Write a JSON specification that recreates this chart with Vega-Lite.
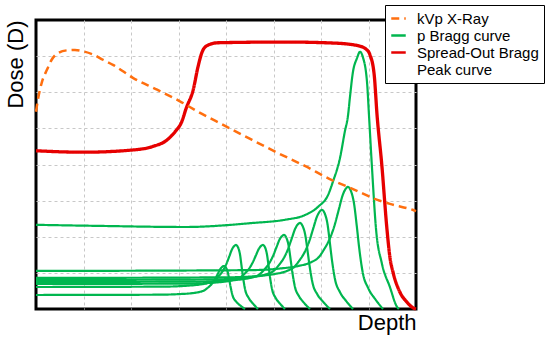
{
  "$schema": "https://vega.github.io/schema/vega-lite/v6.json",
  "width": 380,
  "height": 289,
  "autosize": {"type": "none"},
  "padding": {"left": 36, "top": 20, "right": 134, "bottom": 33},
  "background": "white",
  "config": {
    "view": {"stroke": "black", "strokeWidth": 3},
    "axis": {
      "domain": false, "ticks": false, "labels": false, "grid": true,
      "gridColor": "#c8c8c8", "gridDash": [3, 3], "gridWidth": 1,
      "titleFont": "Liberation Sans", "titleFontSize": 22, "titleFontWeight": "normal", "titleColor": "black"
    },
    "legend": {
      "orient": "none", "legendX": 349, "legendY": -15, "symbolType": "stroke",
      "symbolStrokeWidth": 2.5, "symbolSize": 210, "labelFont": "Liberation Sans", "labelFontSize": 15, "labelColor": "black",
      "labelOffset": 10, "rowPadding": 0, "padding": 5, "strokeColor": "black", "fillColor": "white",
      "cornerRadius": 0, "labelLimit": 200
    }
  },
  "data": {"values": [
    {"type": "p Bragg curve", "curve": "p1", "x": 0, "y": 0.388},
    {"type": "p Bragg curve", "curve": "p1", "x": 2.594, "y": 0.396},
    {"type": "p Bragg curve", "curve": "p1", "x": 3.011, "y": 0.413},
    {"type": "p Bragg curve", "curve": "p1", "x": 3.263, "y": 0.435},
    {"type": "p Bragg curve", "curve": "p1", "x": 3.427, "y": 0.468},
    {"type": "p Bragg curve", "curve": "p1", "x": 3.554, "y": 0.524},
    {"type": "p Bragg curve", "curve": "p1", "x": 3.617, "y": 0.589},
    {"type": "p Bragg curve", "curve": "p1", "x": 3.705, "y": 0.701},
    {"type": "p Bragg curve", "curve": "p1", "x": 3.768, "y": 0.823},
    {"type": "p Bragg curve", "curve": "p1", "x": 3.832, "y": 0.983},
    {"type": "p Bragg curve", "curve": "p1", "x": 3.882, "y": 1.111},
    {"type": "p Bragg curve", "curve": "p1", "x": 3.92, "y": 1.166},
    {"type": "p Bragg curve", "curve": "p1", "x": 3.958, "y": 1.191},
    {"type": "p Bragg curve", "curve": "p1", "x": 3.994, "y": 1.155},
    {"type": "p Bragg curve", "curve": "p1", "x": 4.038, "y": 1.014},
    {"type": "p Bragg curve", "curve": "p1", "x": 4.069, "y": 0.809},
    {"type": "p Bragg curve", "curve": "p1", "x": 4.099, "y": 0.596},
    {"type": "p Bragg curve", "curve": "p1", "x": 4.143, "y": 0.357},
    {"type": "p Bragg curve", "curve": "p1", "x": 4.215, "y": 0.202},
    {"type": "p Bragg curve", "curve": "p1", "x": 4.303, "y": 0.094},
    {"type": "p Bragg curve", "curve": "p1", "x": 4.4, "y": 0},

    {"type": "p Bragg curve", "curve": "p2", "x": 0, "y": 0.609},
    {"type": "p Bragg curve", "curve": "p2", "x": 2.733, "y": 0.62},
    {"type": "p Bragg curve", "curve": "p2", "x": 3.184, "y": 0.645},
    {"type": "p Bragg curve", "curve": "p2", "x": 3.458, "y": 0.679},
    {"type": "p Bragg curve", "curve": "p2", "x": 3.636, "y": 0.726},
    {"type": "p Bragg curve", "curve": "p2", "x": 3.773, "y": 0.806},
    {"type": "p Bragg curve", "curve": "p2", "x": 3.841, "y": 0.9},
    {"type": "p Bragg curve", "curve": "p2", "x": 3.937, "y": 1.064},
    {"type": "p Bragg curve", "curve": "p2", "x": 4.005, "y": 1.238},
    {"type": "p Bragg curve", "curve": "p2", "x": 4.074, "y": 1.471},
    {"type": "p Bragg curve", "curve": "p2", "x": 4.128, "y": 1.657},
    {"type": "p Bragg curve", "curve": "p2", "x": 4.169, "y": 1.737},
    {"type": "p Bragg curve", "curve": "p2", "x": 4.211, "y": 1.773},
    {"type": "p Bragg curve", "curve": "p2", "x": 4.248, "y": 1.72},
    {"type": "p Bragg curve", "curve": "p2", "x": 4.295, "y": 1.507},
    {"type": "p Bragg curve", "curve": "p2", "x": 4.326, "y": 1.205},
    {"type": "p Bragg curve", "curve": "p2", "x": 4.358, "y": 0.886},
    {"type": "p Bragg curve", "curve": "p2", "x": 4.404, "y": 0.532},
    {"type": "p Bragg curve", "curve": "p2", "x": 4.48, "y": 0.302},
    {"type": "p Bragg curve", "curve": "p2", "x": 4.573, "y": 0.141},
    {"type": "p Bragg curve", "curve": "p2", "x": 4.674, "y": 0},

    {"type": "p Bragg curve", "curve": "p3", "x": 0, "y": 0.693},
    {"type": "p Bragg curve", "curve": "p3", "x": 3.187, "y": 0.703},
    {"type": "p Bragg curve", "curve": "p3", "x": 3.674, "y": 0.725},
    {"type": "p Bragg curve", "curve": "p3", "x": 3.968, "y": 0.757},
    {"type": "p Bragg curve", "curve": "p3", "x": 4.16, "y": 0.801},
    {"type": "p Bragg curve", "curve": "p3", "x": 4.307, "y": 0.876},
    {"type": "p Bragg curve", "curve": "p3", "x": 4.381, "y": 0.963},
    {"type": "p Bragg curve", "curve": "p3", "x": 4.484, "y": 1.114},
    {"type": "p Bragg curve", "curve": "p3", "x": 4.558, "y": 1.276},
    {"type": "p Bragg curve", "curve": "p3", "x": 4.632, "y": 1.492},
    {"type": "p Bragg curve", "curve": "p3", "x": 4.691, "y": 1.665},
    {"type": "p Bragg curve", "curve": "p3", "x": 4.735, "y": 1.74},
    {"type": "p Bragg curve", "curve": "p3", "x": 4.779, "y": 1.773},
    {"type": "p Bragg curve", "curve": "p3", "x": 4.817, "y": 1.72},
    {"type": "p Bragg curve", "curve": "p3", "x": 4.863, "y": 1.507},
    {"type": "p Bragg curve", "curve": "p3", "x": 4.895, "y": 1.205},
    {"type": "p Bragg curve", "curve": "p3", "x": 4.926, "y": 0.886},
    {"type": "p Bragg curve", "curve": "p3", "x": 4.973, "y": 0.532},
    {"type": "p Bragg curve", "curve": "p3", "x": 5.048, "y": 0.302},
    {"type": "p Bragg curve", "curve": "p3", "x": 5.141, "y": 0.141},
    {"type": "p Bragg curve", "curve": "p3", "x": 5.242, "y": 0},

    {"type": "p Bragg curve", "curve": "p4", "x": 0, "y": 0.748},
    {"type": "p Bragg curve", "curve": "p4", "x": 3.516, "y": 0.761},
    {"type": "p Bragg curve", "curve": "p4", "x": 4.037, "y": 0.787},
    {"type": "p Bragg curve", "curve": "p4", "x": 4.353, "y": 0.826},
    {"type": "p Bragg curve", "curve": "p4", "x": 4.558, "y": 0.878},
    {"type": "p Bragg curve", "curve": "p4", "x": 4.716, "y": 0.969},
    {"type": "p Bragg curve", "curve": "p4", "x": 4.795, "y": 1.073},
    {"type": "p Bragg curve", "curve": "p4", "x": 4.905, "y": 1.256},
    {"type": "p Bragg curve", "curve": "p4", "x": 4.984, "y": 1.451},
    {"type": "p Bragg curve", "curve": "p4", "x": 5.063, "y": 1.711},
    {"type": "p Bragg curve", "curve": "p4", "x": 5.126, "y": 1.92},
    {"type": "p Bragg curve", "curve": "p4", "x": 5.174, "y": 2.011},
    {"type": "p Bragg curve", "curve": "p4", "x": 5.221, "y": 2.05},
    {"type": "p Bragg curve", "curve": "p4", "x": 5.265, "y": 1.989},
    {"type": "p Bragg curve", "curve": "p4", "x": 5.32, "y": 1.742},
    {"type": "p Bragg curve", "curve": "p4", "x": 5.358, "y": 1.393},
    {"type": "p Bragg curve", "curve": "p4", "x": 5.396, "y": 1.025},
    {"type": "p Bragg curve", "curve": "p4", "x": 5.451, "y": 0.615},
    {"type": "p Bragg curve", "curve": "p4", "x": 5.539, "y": 0.349},
    {"type": "p Bragg curve", "curve": "p4", "x": 5.648, "y": 0.163},
    {"type": "p Bragg curve", "curve": "p4", "x": 5.768, "y": 0},

    {"type": "p Bragg curve", "curve": "p5", "x": 0, "y": 0.803},
    {"type": "p Bragg curve", "curve": "p5", "x": 3.739, "y": 0.819},
    {"type": "p Bragg curve", "curve": "p5", "x": 4.295, "y": 0.851},
    {"type": "p Bragg curve", "curve": "p5", "x": 4.632, "y": 0.898},
    {"type": "p Bragg curve", "curve": "p5", "x": 4.851, "y": 0.961},
    {"type": "p Bragg curve", "curve": "p5", "x": 5.019, "y": 1.072},
    {"type": "p Bragg curve", "curve": "p5", "x": 5.103, "y": 1.198},
    {"type": "p Bragg curve", "curve": "p5", "x": 5.221, "y": 1.419},
    {"type": "p Bragg curve", "curve": "p5", "x": 5.305, "y": 1.656},
    {"type": "p Bragg curve", "curve": "p5", "x": 5.389, "y": 1.972},
    {"type": "p Bragg curve", "curve": "p5", "x": 5.457, "y": 2.224},
    {"type": "p Bragg curve", "curve": "p5", "x": 5.507, "y": 2.335},
    {"type": "p Bragg curve", "curve": "p5", "x": 5.558, "y": 2.382},
    {"type": "p Bragg curve", "curve": "p5", "x": 5.608, "y": 2.31},
    {"type": "p Bragg curve", "curve": "p5", "x": 5.672, "y": 2.025},
    {"type": "p Bragg curve", "curve": "p5", "x": 5.716, "y": 1.62},
    {"type": "p Bragg curve", "curve": "p5", "x": 5.76, "y": 1.191},
    {"type": "p Bragg curve", "curve": "p5", "x": 5.823, "y": 0.715},
    {"type": "p Bragg curve", "curve": "p5", "x": 5.924, "y": 0.404},
    {"type": "p Bragg curve", "curve": "p5", "x": 6.051, "y": 0.191},
    {"type": "p Bragg curve", "curve": "p5", "x": 6.189, "y": 0},

    {"type": "p Bragg curve", "curve": "p6", "x": 0, "y": 0.859},
    {"type": "p Bragg curve", "curve": "p6", "x": 4.088, "y": 0.878},
    {"type": "p Bragg curve", "curve": "p6", "x": 4.679, "y": 0.915},
    {"type": "p Bragg curve", "curve": "p6", "x": 5.037, "y": 0.972},
    {"type": "p Bragg curve", "curve": "p6", "x": 5.269, "y": 1.047},
    {"type": "p Bragg curve", "curve": "p6", "x": 5.448, "y": 1.179},
    {"type": "p Bragg curve", "curve": "p6", "x": 5.538, "y": 1.33},
    {"type": "p Bragg curve", "curve": "p6", "x": 5.663, "y": 1.593},
    {"type": "p Bragg curve", "curve": "p6", "x": 5.753, "y": 1.876},
    {"type": "p Bragg curve", "curve": "p6", "x": 5.842, "y": 2.253},
    {"type": "p Bragg curve", "curve": "p6", "x": 5.914, "y": 2.554},
    {"type": "p Bragg curve", "curve": "p6", "x": 5.967, "y": 2.686},
    {"type": "p Bragg curve", "curve": "p6", "x": 6.021, "y": 2.742},
    {"type": "p Bragg curve", "curve": "p6", "x": 6.074, "y": 2.659},
    {"type": "p Bragg curve", "curve": "p6", "x": 6.139, "y": 2.332},
    {"type": "p Bragg curve", "curve": "p6", "x": 6.184, "y": 1.864},
    {"type": "p Bragg curve", "curve": "p6", "x": 6.229, "y": 1.371},
    {"type": "p Bragg curve", "curve": "p6", "x": 6.295, "y": 0.823},
    {"type": "p Bragg curve", "curve": "p6", "x": 6.4, "y": 0.465},
    {"type": "p Bragg curve", "curve": "p6", "x": 6.531, "y": 0.219},
    {"type": "p Bragg curve", "curve": "p6", "x": 6.674, "y": 0},

    {"type": "p Bragg curve", "curve": "p7", "x": 0, "y": 1.053},
    {"type": "p Bragg curve", "curve": "p7", "x": 4.522, "y": 1.076},
    {"type": "p Bragg curve", "curve": "p7", "x": 5.147, "y": 1.122},
    {"type": "p Bragg curve", "curve": "p7", "x": 5.526, "y": 1.192},
    {"type": "p Bragg curve", "curve": "p7", "x": 5.773, "y": 1.285},
    {"type": "p Bragg curve", "curve": "p7", "x": 5.962, "y": 1.448},
    {"type": "p Bragg curve", "curve": "p7", "x": 6.057, "y": 1.634},
    {"type": "p Bragg curve", "curve": "p7", "x": 6.189, "y": 1.96},
    {"type": "p Bragg curve", "curve": "p7", "x": 6.284, "y": 2.309},
    {"type": "p Bragg curve", "curve": "p7", "x": 6.379, "y": 2.775},
    {"type": "p Bragg curve", "curve": "p7", "x": 6.455, "y": 3.147},
    {"type": "p Bragg curve", "curve": "p7", "x": 6.512, "y": 3.31},
    {"type": "p Bragg curve", "curve": "p7", "x": 6.568, "y": 3.38},
    {"type": "p Bragg curve", "curve": "p7", "x": 6.627, "y": 3.277},
    {"type": "p Bragg curve", "curve": "p7", "x": 6.701, "y": 2.873},
    {"type": "p Bragg curve", "curve": "p7", "x": 6.753, "y": 2.299},
    {"type": "p Bragg curve", "curve": "p7", "x": 6.804, "y": 1.69},
    {"type": "p Bragg curve", "curve": "p7", "x": 6.878, "y": 1.014},
    {"type": "p Bragg curve", "curve": "p7", "x": 6.996, "y": 0.573},
    {"type": "p Bragg curve", "curve": "p7", "x": 7.143, "y": 0.271},
    {"type": "p Bragg curve", "curve": "p7", "x": 7.305, "y": 0},

    {"type": "p Bragg curve", "curve": "main", "x": 0, "y": 2.33},
    {"type": "p Bragg curve", "curve": "main", "x": 1.35, "y": 2.3},
    {"type": "p Bragg curve", "curve": "main", "x": 3.14, "y": 2.27},
    {"type": "p Bragg curve", "curve": "main", "x": 4.55, "y": 2.38},
    {"type": "p Bragg curve", "curve": "main", "x": 5.24, "y": 2.47},
    {"type": "p Bragg curve", "curve": "main", "x": 5.66, "y": 2.6},
    {"type": "p Bragg curve", "curve": "main", "x": 5.94, "y": 2.83},
    {"type": "p Bragg curve", "curve": "main", "x": 6.15, "y": 3.16},
    {"type": "p Bragg curve", "curve": "main", "x": 6.25, "y": 3.52},
    {"type": "p Bragg curve", "curve": "main", "x": 6.4, "y": 4.18},
    {"type": "p Bragg curve", "curve": "main", "x": 6.5, "y": 4.9},
    {"type": "p Bragg curve", "curve": "main", "x": 6.57, "y": 5.37},
    {"type": "p Bragg curve", "curve": "main", "x": 6.61, "y": 5.87},
    {"type": "p Bragg curve", "curve": "main", "x": 6.67, "y": 6.54},
    {"type": "p Bragg curve", "curve": "main", "x": 6.76, "y": 6.95},
    {"type": "p Bragg curve", "curve": "main", "x": 6.82, "y": 7.12},
    {"type": "p Bragg curve", "curve": "main", "x": 6.88, "y": 6.98},
    {"type": "p Bragg curve", "curve": "main", "x": 6.97, "y": 6.26},
    {"type": "p Bragg curve", "curve": "main", "x": 7.01, "y": 5.37},
    {"type": "p Bragg curve", "curve": "main", "x": 7.07, "y": 3.99},
    {"type": "p Bragg curve", "curve": "main", "x": 7.16, "y": 2.19},
    {"type": "p Bragg curve", "curve": "main", "x": 7.28, "y": 1.27},
    {"type": "p Bragg curve", "curve": "main", "x": 7.45, "y": 0.61},
    {"type": "p Bragg curve", "curve": "main", "x": 7.6, "y": 0.06},
    {"type": "p Bragg curve", "curve": "main", "x": 7.64, "y": 0},

    {"type": "Spread-Out Bragg Peak curve", "curve": "sobp", "x": 0, "y": 4.38},
    {"type": "Spread-Out Bragg Peak curve", "curve": "sobp", "x": 0.99, "y": 4.34},
    {"type": "Spread-Out Bragg Peak curve", "curve": "sobp", "x": 2.02, "y": 4.4},
    {"type": "Spread-Out Bragg Peak curve", "curve": "sobp", "x": 2.46, "y": 4.5},
    {"type": "Spread-Out Bragg Peak curve", "curve": "sobp", "x": 2.76, "y": 4.68},
    {"type": "Spread-Out Bragg Peak curve", "curve": "sobp", "x": 2.93, "y": 4.91},
    {"type": "Spread-Out Bragg Peak curve", "curve": "sobp", "x": 3.07, "y": 5.19},
    {"type": "Spread-Out Bragg Peak curve", "curve": "sobp", "x": 3.16, "y": 5.55},
    {"type": "Spread-Out Bragg Peak curve", "curve": "sobp", "x": 3.31, "y": 6.07},
    {"type": "Spread-Out Bragg Peak curve", "curve": "sobp", "x": 3.41, "y": 6.7},
    {"type": "Spread-Out Bragg Peak curve", "curve": "sobp", "x": 3.49, "y": 7.09},
    {"type": "Spread-Out Bragg Peak curve", "curve": "sobp", "x": 3.6, "y": 7.29},
    {"type": "Spread-Out Bragg Peak curve", "curve": "sobp", "x": 3.83, "y": 7.37},
    {"type": "Spread-Out Bragg Peak curve", "curve": "sobp", "x": 5.24, "y": 7.39},
    {"type": "Spread-Out Bragg Peak curve", "curve": "sobp", "x": 6.29, "y": 7.36},
    {"type": "Spread-Out Bragg Peak curve", "curve": "sobp", "x": 6.78, "y": 7.29},
    {"type": "Spread-Out Bragg Peak curve", "curve": "sobp", "x": 6.97, "y": 7.17},
    {"type": "Spread-Out Bragg Peak curve", "curve": "sobp", "x": 7.03, "y": 7.04},
    {"type": "Spread-Out Bragg Peak curve", "curve": "sobp", "x": 7.12, "y": 6.48},
    {"type": "Spread-Out Bragg Peak curve", "curve": "sobp", "x": 7.18, "y": 5.37},
    {"type": "Spread-Out Bragg Peak curve", "curve": "sobp", "x": 7.28, "y": 3.99},
    {"type": "Spread-Out Bragg Peak curve", "curve": "sobp", "x": 7.39, "y": 2.19},
    {"type": "Spread-Out Bragg Peak curve", "curve": "sobp", "x": 7.45, "y": 1.44},
    {"type": "Spread-Out Bragg Peak curve", "curve": "sobp", "x": 7.52, "y": 1.0},
    {"type": "Spread-Out Bragg Peak curve", "curve": "sobp", "x": 7.66, "y": 0.47},
    {"type": "Spread-Out Bragg Peak curve", "curve": "sobp", "x": 7.81, "y": 0.19},
    {"type": "Spread-Out Bragg Peak curve", "curve": "sobp", "x": 7.94, "y": 0.03},
    {"type": "Spread-Out Bragg Peak curve", "curve": "sobp", "x": 8.0, "y": 0},

    {"type": "kVp X-Ray", "curve": "xray", "x": 0, "y": 5.46},
    {"type": "kVp X-Ray", "curve": "xray", "x": 0.04, "y": 5.79},
    {"type": "kVp X-Ray", "curve": "xray", "x": 0.12, "y": 6.26},
    {"type": "kVp X-Ray", "curve": "xray", "x": 0.23, "y": 6.62},
    {"type": "kVp X-Ray", "curve": "xray", "x": 0.33, "y": 6.9},
    {"type": "kVp X-Ray", "curve": "xray", "x": 0.47, "y": 7.09},
    {"type": "kVp X-Ray", "curve": "xray", "x": 0.65, "y": 7.16},
    {"type": "kVp X-Ray", "curve": "xray", "x": 0.82, "y": 7.17},
    {"type": "kVp X-Ray", "curve": "xray", "x": 1.0, "y": 7.13},
    {"type": "kVp X-Ray", "curve": "xray", "x": 1.21, "y": 7.04},
    {"type": "kVp X-Ray", "curve": "xray", "x": 1.41, "y": 6.9},
    {"type": "kVp X-Ray", "curve": "xray", "x": 1.62, "y": 6.76},
    {"type": "kVp X-Ray", "curve": "xray", "x": 2.04, "y": 6.4},
    {"type": "kVp X-Ray", "curve": "xray", "x": 2.55, "y": 6.07},
    {"type": "kVp X-Ray", "curve": "xray", "x": 3.03, "y": 5.75},
    {"type": "kVp X-Ray", "curve": "xray", "x": 3.41, "y": 5.46},
    {"type": "kVp X-Ray", "curve": "xray", "x": 3.98, "y": 5.07},
    {"type": "kVp X-Ray", "curve": "xray", "x": 4.55, "y": 4.68},
    {"type": "kVp X-Ray", "curve": "xray", "x": 5.09, "y": 4.32},
    {"type": "kVp X-Ray", "curve": "xray", "x": 5.66, "y": 3.96},
    {"type": "kVp X-Ray", "curve": "xray", "x": 6.23, "y": 3.57},
    {"type": "kVp X-Ray", "curve": "xray", "x": 6.57, "y": 3.38},
    {"type": "kVp X-Ray", "curve": "xray", "x": 6.99, "y": 3.13},
    {"type": "kVp X-Ray", "curve": "xray", "x": 7.09, "y": 3.07},
    {"type": "kVp X-Ray", "curve": "xray", "x": 7.45, "y": 2.91},
    {"type": "kVp X-Ray", "curve": "xray", "x": 7.94, "y": 2.74},
    {"type": "kVp X-Ray", "curve": "xray", "x": 8.0, "y": 2.71}
  ]},
  "encoding": {
    "x": {"field": "x", "type": "quantitative", "scale": {"domain": [0, 8], "nice": false, "zero": false},
          "axis": {"values": [1, 2, 3, 4, 5, 6, 7], "title": "Depth", "titleAnchor": "end", "titlePadding": 3}},
    "y": {"field": "y", "type": "quantitative", "scale": {"domain": [0, 8], "nice": false},
          "axis": {"values": [1, 2, 3, 4, 5, 6, 7], "title": "Dose (D)", "titleAnchor": "end", "titlePadding": 9}},
    "color": {"field": "type", "type": "nominal",
      "scale": {"domain": ["kVp X-Ray", "p Bragg curve", "Spread-Out Bragg Peak curve"], "range": ["#ff6f0f", "#00b64f", "#e60000"]},
      "legend": {"title": null,
        "labelExpr": "datum.label == 'Spread-Out Bragg Peak curve' ? ['Spread-Out Bragg', 'Peak curve'] : datum.label"}},
    "strokeDash": {"field": "type", "type": "nominal",
      "scale": {"domain": ["kVp X-Ray", "p Bragg curve", "Spread-Out Bragg Peak curve"], "range": [[8, 5], [1, 0], [1, 0]]},
      "legend": {"title": null,
        "labelExpr": "datum.label == 'Spread-Out Bragg Peak curve' ? ['Spread-Out Bragg', 'Peak curve'] : datum.label"}},
    "detail": {"field": "curve", "type": "nominal"}
  },
  "layer": [
    {"transform": [{"filter": "datum.type == 'p Bragg curve'"}],
     "mark": {"type": "line", "strokeWidth": 2.2, "interpolate": "monotone"}},
    {"transform": [{"filter": "datum.type == 'Spread-Out Bragg Peak curve'"}],
     "mark": {"type": "line", "strokeWidth": 3.3, "interpolate": "monotone"}},
    {"transform": [{"filter": "datum.type == 'kVp X-Ray'"}],
     "mark": {"type": "line", "strokeWidth": 2.5, "interpolate": "monotone"}}
  ]
}
